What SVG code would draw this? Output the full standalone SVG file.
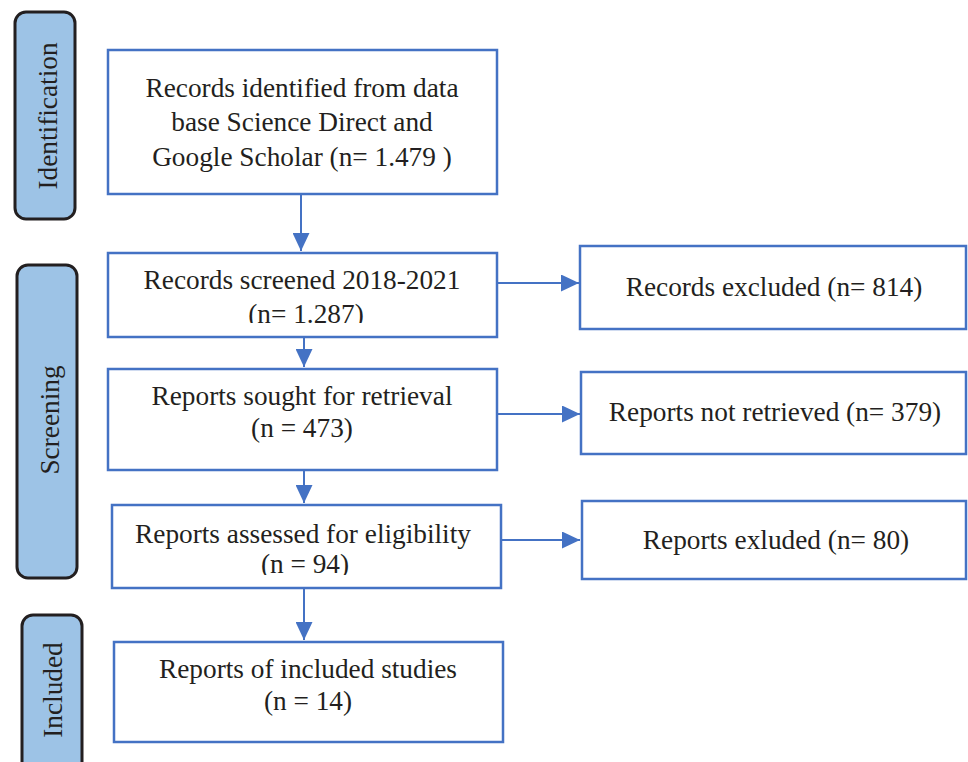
<svg xmlns="http://www.w3.org/2000/svg" width="968" height="762" viewBox="0 0 968 762">
<style>
.phase{fill:#9DC3E6;stroke:#231F20;stroke-width:3}
.box{fill:#FFFFFF;stroke:#4472C4;stroke-width:2.5}
.t{font-family:"Liberation Serif","Times New Roman",serif;font-size:27.3px;fill:#231F20;text-anchor:middle}
.c{stroke:#4472C4;stroke-width:2;fill:none}
</style>
<defs>
<marker id="ah" markerUnits="userSpaceOnUse" markerWidth="18" markerHeight="17" refX="18" refY="8.5" orient="auto">
<path d="M0,0 L18,8.5 L0,17 z" fill="#4472C4"/>
</marker>
<clipPath id="clip2"><rect x="100" y="240" width="400" height="83"/></clipPath>
<clipPath id="clip6"><rect x="100" y="500" width="400" height="75"/></clipPath>
</defs>
<rect width="968" height="762" fill="#FFFFFF"/>
<g id="phase-identification">
<rect class="phase" x="15" y="12" width="60" height="207" rx="11"/>
<text class="t" transform="translate(57,116) rotate(-90)">Identification</text>
</g>
<g id="phase-screening">
<rect class="phase" x="17" y="265" width="60" height="313" rx="11"/>
<text class="t" transform="translate(59,420) rotate(-90)">Screening</text>
</g>
<g id="phase-included">
<rect class="phase" x="22" y="615" width="60" height="170" rx="11"/>
<text class="t" transform="translate(62,690) rotate(-90)">Included</text>
</g>
<g id="n1">
<rect class="box" x="108" y="50" width="389" height="144"/>
<text class="t" x="302" y="97">Records identified from data</text>
<text class="t" x="302" y="131">base Science Direct and</text>
<text class="t" x="302" y="166">Google Scholar (n= 1.479 )</text>
</g>
<g id="n2">
<rect class="box" x="108" y="253" width="389" height="84"/>
<text class="t" x="302" y="289">Records screened 2018-2021</text>
<text class="t" x="306" y="323" clip-path="url(#clip2)">(n= 1.287)</text>
</g>
<g id="n3">
<rect class="box" x="580" y="246" width="386" height="83"/>
<text class="t" x="774" y="296">Records excluded (n= 814)</text>
</g>
<g id="n4">
<rect class="box" x="108" y="369" width="389" height="101"/>
<text class="t" x="302" y="405">Reports sought for retrieval</text>
<text class="t" x="302" y="437">(n = 473)</text>
</g>
<g id="n5">
<rect class="box" x="581" y="372" width="385" height="82"/>
<text class="t" x="775" y="421">Reports not retrieved (n= 379)</text>
</g>
<g id="n6">
<rect class="box" x="112" y="505" width="389" height="83"/>
<text class="t" x="303" y="543">Reports assessed for eligibility</text>
<text class="t" x="305" y="573" clip-path="url(#clip6)">(n = 94)</text>
</g>
<g id="n7">
<rect class="box" x="582" y="501" width="384" height="78"/>
<text class="t" x="776" y="549">Reports exluded (n= 80)</text>
</g>
<g id="n8">
<rect class="box" x="114" y="642" width="389" height="100"/>
<text class="t" x="308" y="678">Reports of included studies</text>
<text class="t" x="308" y="710">(n = 14)</text>
</g>
<g id="connectors">
<line class="c" x1="301" y1="195" x2="301" y2="251" marker-end="url(#ah)"/>
<line class="c" x1="497" y1="283" x2="579" y2="283" marker-end="url(#ah)"/>
<line class="c" x1="304" y1="338" x2="304" y2="367" marker-end="url(#ah)"/>
<line class="c" x1="497" y1="414" x2="580" y2="414" marker-end="url(#ah)"/>
<line class="c" x1="304" y1="471" x2="304" y2="503" marker-end="url(#ah)"/>
<line class="c" x1="501" y1="540" x2="580" y2="540" marker-end="url(#ah)"/>
<line class="c" x1="304" y1="589" x2="304" y2="640" marker-end="url(#ah)"/>
</g>
</svg>
